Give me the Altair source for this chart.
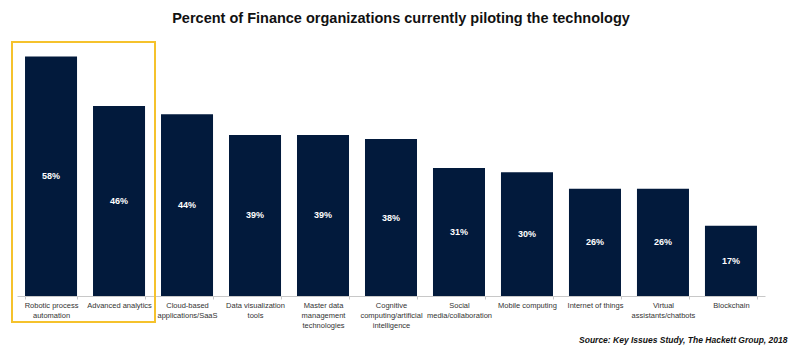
import altair as alt
import pandas as pd

categories = [
    "Robotic process|automation",
    "Advanced analytics",
    "Cloud-based|applications/SaaS",
    "Data visualization|tools",
    "Master data|management|technologies",
    "Cognitive|computing/artificial|intelligence",
    "Social|media/collaboration",
    "Mobile computing",
    "Internet of things",
    "Virtual|assistants/chatbots",
    "Blockchain",
]
values = [58, 46, 44, 39, 39, 38, 31, 30, 26, 26, 17]

df = pd.DataFrame({"category": categories, "value": values})

NAVY = "#021a3c"
YELLOW = "#f5c22c"
FONT = "Liberation Sans"

x = alt.X(
    "category:N",
    sort=categories,
    scale=alt.Scale(paddingInner=0.235, paddingOuter=0.118),
    axis=alt.Axis(
        title="Source: Key Issues Study, The Hackett Group, 2018",
        titleFont=FONT,
        titleFontSize=8.5,
        titleFontWeight="bold",
        titleFontStyle="italic",
        titleColor="#111111",
        titleAnchor="end",
        titleAlign="right",
        titleBaseline="alphabetic",
        titleX=770,
        titleY=46,
        labelExpr="split(datum.label, '|')",
        labelAngle=0,
        labelFont=FONT,
        labelFontSize=7.5,
        labelColor="#333333",
        labelLineHeight=10,
        labelPadding=2,
        labelBaseline="top",
        domainColor="#c8c8c8",
        tickColor="#c8c8c8",
        tickSize=3,
        tickBand="extent",
    ),
)

y = alt.Y("value:Q", scale=alt.Scale(domain=[0, 62], nice=False), axis=None)

bars = alt.Chart(df).mark_bar(color=NAVY).encode(x=x, y=y)

labels = (
    alt.Chart(df)
    .transform_calculate(mid="datum.value / 2", txt="datum.value + '%'")
    .mark_text(color="white", fontWeight="bold", fontSize=9, font=FONT, baseline="middle")
    .encode(x=alt.X("category:N", sort=categories), y=alt.Y("mid:Q"), text="txt:N")
)

box = (
    alt.Chart(pd.DataFrame({"k": [0]}))
    .mark_rect(fill=None, stroke=YELLOW, strokeWidth=2, clip=False)
    .encode(x=alt.value(-5), x2=alt.value(138), y=alt.value(2), y2=alt.value(282))
)

chart = (
    alt.layer(bars, labels, box)
    .properties(
        width=748,
        height=256,
        padding={"left": 17, "top": 40, "right": 35, "bottom": 56},
        autosize=alt.AutoSizeParams(type="none"),
        title=alt.TitleParams(
            "Percent of Finance organizations currently piloting the technology",
            font=FONT,
            fontSize=14.5,
            fontWeight="bold",
            color="#111111",
            anchor="middle",
            dx=10,
            offset=14,
        ),
        background="white",
    )
    .configure_view(stroke=None)
)

chart.save("out.html", embed_options={"renderer": "svg", "actions": False})
